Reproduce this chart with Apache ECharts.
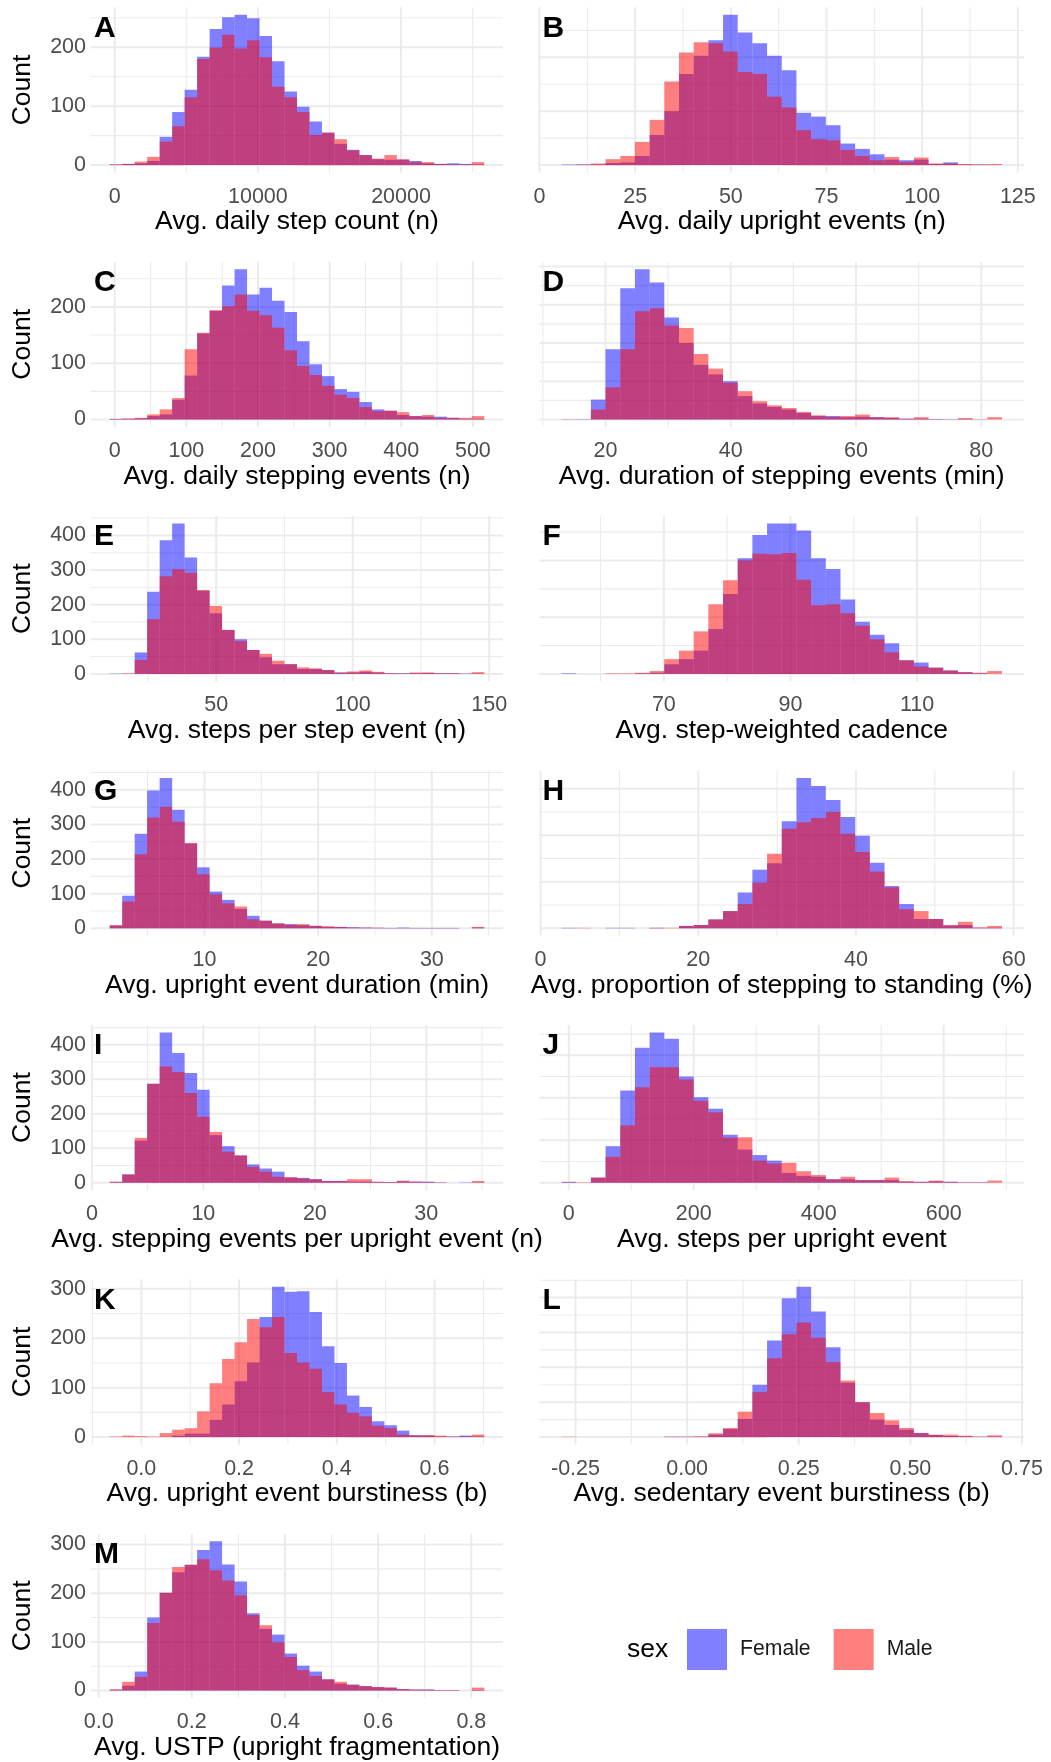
<!DOCTYPE html>
<html><head><meta charset="utf-8">
<script src="https://cdn.jsdelivr.net/npm/echarts@6/dist/echarts.min.js"></script>
<style>html,body{margin:0;padding:0;background:#fff}#chart{width:1051px;height:1762px}</style>
</head><body><div id="chart"></div>
<script>
// ---------------- data ----------------
const sexes = ['Female', 'Male'];
const panelTags = ['A','B','C','D','E','F','G','H','I','J','K','L','M'];
const xTitles = [
  'Avg. daily step count (n)', 'Avg. daily upright events (n)',
  'Avg. daily stepping events (n)', 'Avg. duration of stepping events (min)',
  'Avg. steps per step event (n)', 'Avg. step-weighted cadence',
  'Avg. upright event duration (min)', 'Avg. proportion of stepping to standing (%)',
  'Avg. stepping events per upright event (n)', 'Avg. steps per upright event',
  'Avg. upright event burstiness (b)', 'Avg. sedentary event burstiness (b)',
  'Avg. USTP (upright fragmentation)'
];
// histogram bins: first bin start and bin width (30 bins each)
const binStart = [-349, 5.75, -7, 12.98, 11.0, 53.84, 1.67, 2.66, 1.6, -11.7, -0.0647, -0.2813, 0.0238];
const binWidth = [872.1, 3.837, 17.43, 2.344, 4.573, 2.319, 1.098, 1.862, 1.12, 23.5, 0.02555, 0.03288, 0.0268];

const femaleA = [1,2,3,7,48,90,128,184,231,251,255,249,219,176,125,99,74,55,36,26,17,10,9,9,7,3,2,3,2,1];
const maleA   = [1,2,6,14,40,66,115,180,199,221,198,212,183,133,115,90,51,55,44,25,17,11,17,10,5,5,2,1,1,5];
const femaleB = [1,1,1,4,5,17,56,100,169,203,232,279,246,226,203,176,97,90,74,40,30,20,10,9,10,2,5,1,1,0];
const maleB   = [0,1,3,11,17,43,84,155,209,228,226,211,173,169,127,107,65,48,46,28,17,9,15,6,14,3,3,2,1,2];
const femaleC = [1,1,2,6,9,35,78,153,193,238,267,222,234,211,191,139,98,77,54,49,31,18,15,8,6,5,5,3,1,1];
const maleC   = [1,2,3,9,18,38,125,154,194,201,222,193,185,163,123,95,79,60,44,38,22,15,16,13,6,8,3,3,3,6];
const femaleD = [0,1,52,184,343,393,358,267,200,143,118,100,61,42,33,26,17,9,9,6,7,6,4,2,2,1,1,1,0,0];
const maleD   = [1,0,26,84,184,283,291,246,239,171,133,96,74,48,37,30,20,11,7,9,13,6,6,2,6,1,0,4,1,6];
const femaleE = [1,0,62,237,386,434,336,240,175,127,100,69,48,28,28,14,14,11,4,4,6,4,2,2,2,3,2,2,1,1];
const maleE   = [0,2,40,158,282,302,292,242,196,127,95,69,58,38,28,19,16,11,4,7,10,6,2,1,4,4,2,2,1,5];
const femaleF = [1,0,0,0,0,1,2,17,26,41,79,141,204,245,265,265,253,204,185,131,92,69,54,24,20,11,6,3,1,0];
const maleF   = [0,0,0,1,1,2,5,26,41,75,123,165,200,212,211,213,166,121,123,107,85,61,38,24,13,11,6,3,2,5];
const femaleG = [8,94,273,398,434,342,245,176,106,82,56,36,22,14,12,9,7,4,4,3,2,1,1,2,1,1,1,1,0,2];
const maleG   = [9,77,214,320,350,308,246,156,98,72,63,26,22,14,10,12,7,6,4,2,2,2,1,1,1,1,1,1,0,4];
const femaleH = [1,0,0,1,1,0,1,0,5,7,19,37,77,126,140,230,323,306,276,239,199,141,91,52,20,20,6,7,1,1];
const maleH   = [0,1,0,0,0,0,1,1,5,7,19,37,52,98,160,214,228,237,250,203,164,122,88,41,37,20,7,14,2,5];
const femaleI = [2,24,122,287,436,376,318,270,138,106,79,53,41,32,15,14,10,5,5,3,3,2,2,4,3,3,1,0,1,1];
const maleI   = [3,24,130,287,337,321,260,191,147,90,79,46,32,17,16,12,10,5,5,10,10,3,2,6,3,2,1,0,0,5];
const femaleJ = [2,0,12,86,217,318,354,339,250,201,174,113,78,65,52,23,16,14,8,8,6,6,6,2,2,3,2,1,1,0];
const maleJ   = [1,1,12,61,135,225,272,272,243,193,166,106,107,52,45,47,27,18,8,14,6,6,12,4,2,5,2,1,1,5];
const femaleK = [0,0,0,0,0,3,7,7,35,66,113,151,243,304,294,295,253,184,150,84,61,32,24,13,4,3,1,1,3,1];
const maleK   = [1,3,2,1,8,15,18,52,109,158,192,239,222,243,170,151,138,91,66,49,42,23,18,5,3,4,3,1,1,5];
const femaleL = [0,0,0,0,0,0,0,1,1,1,7,23,52,150,277,398,431,360,258,156,100,50,35,21,12,6,3,2,1,1];
const maleL   = [1,0,0,0,0,0,0,1,1,2,11,26,73,129,226,295,329,285,215,162,100,69,48,26,11,7,7,4,1,5];
const femaleM = [1,10,39,150,201,243,258,289,307,259,224,159,127,115,76,51,39,23,14,12,9,7,6,3,2,2,1,1,0,1];
const maleM   = [3,18,28,139,201,254,259,270,247,226,196,155,134,99,69,42,30,23,18,12,9,7,6,3,2,2,1,1,0,6];

const femaleCounts = [femaleA,femaleB,femaleC,femaleD,femaleE,femaleF,femaleG,femaleH,femaleI,femaleJ,femaleK,femaleL,femaleM];
const maleCounts   = [maleA,maleB,maleC,maleD,maleE,maleF,maleG,maleH,maleI,maleJ,maleK,maleL,maleM];

// tick labels
const xBreaks = [
  [0,10000,20000], [0,25,50,75,100,125], [0,100,200,300,400,500], [20,40,60,80],
  [50,100,150], [70,90,110], [10,20,30], [0,20,40,60], [0,10,20,30], [0,200,400,600],
  [0,0.2,0.4,0.6], [-0.25,0,0.25,0.5,0.75], [0,0.2,0.4,0.6,0.8]
];
const xDigits = [0,0,0,0,0,0,0,0,0,0,1,2,1];
const yBreaks = [0,100,200,300,400];

// ---------------- layout / style ----------------
const FONT = '"Liberation Sans", Arial, Helvetica, sans-serif';
const COL_LEFT = [91, 539.5], COL_W = [412, 484.5];
const ROW_TOP0 = 7.3, ROW_PITCH = 254.4, PLOT_H = 165.3;
const FEMALE_COLOR = 'rgba(0,0,255,0.5)', MALE_COLOR = 'rgba(255,0,0,0.5)';
const GRID_COLOR = '#EBEBEB';

function minorBreaks(maj, lo, hi) {
  const out = [];
  if (maj.length < 2) return out;
  const step = maj[1] - maj[0];
  for (let k = 0; k <= maj.length; k++) {
    const v = maj[0] - step / 2 + k * step;
    if (v >= lo && v <= hi) out.push(v);
  }
  return out;
}

function renderBar(params, api) {
  const p0 = api.coord([api.value(0), 0]);
  const p1 = api.coord([api.value(1), api.value(2)]);
  return { type: 'rect', shape: { x: p0[0], y: p1[1], width: p1[0] - p0[0], height: p0[1] - p1[1] },
           style: { fill: api.visual('color') } };
}
function renderGridLine(params, api) {
  const cs = params.coordSys;
  const v = api.value(0), o = api.value(1), major = api.value(2);
  const style = { stroke: GRID_COLOR, lineWidth: major ? 2 : 1.1 };
  if (o === 0) {
    const x = api.coord([v, 0])[0];
    return { type: 'line', shape: { x1: x, y1: cs.y, x2: x, y2: cs.y + cs.height }, style };
  }
  const y = api.coord([0, v])[1];
  return { type: 'line', shape: { x1: cs.x, y1: y, x2: cs.x + cs.width, y2: y }, style };
}

const grids = [], xAxes = [], yAxes = [], series = [], titles = [];
panelTags.forEach((tag, i) => {
  const col = i % 2, row = Math.floor(i / 2);
  const top = ROW_TOP0 + row * ROW_PITCH;
  grids.push({ left: COL_LEFT[col], top: top, width: COL_W[col], height: PLOT_H, containLabel: false });
  const fem = femaleCounts[i], mal = maleCounts[i];
  const n = fem.length;
  const x0 = binStart[i], w = binWidth[i];
  const x1 = x0 + n * w;
  const xMin = x0 - 0.05 * (x1 - x0), xMax = x1 + 0.05 * (x1 - x0);
  const ym = Math.max(...fem, ...mal);
  const yMin = -0.05 * ym, yMax = 1.05 * ym;
  const xMaj = xBreaks[i].filter(v => v >= xMin && v <= xMax);
  const yMaj = yBreaks.filter(v => v >= yMin && v <= yMax);
  const xMin2 = minorBreaks(xMaj, xMin, xMax), yMin2 = minorBreaks(yMaj, yMin, yMax);
  const d = xDigits[i];
  xAxes.push({
    gridIndex: i, type: 'value', min: xMin, max: xMax,
    axisLine: { show: false, onZero: false }, axisTick: { show: false }, splitLine: { show: false },
    axisLabel: { customValues: xMaj, formatter: v => Number(v).toFixed(d), color: '#4D4D4D',
                 fontSize: 21.5, fontFamily: FONT, margin: 13 },
    name: xTitles[i], nameLocation: 'middle', nameGap: 36,
    nameTextStyle: { fontSize: 26.5, color: '#000', fontFamily: FONT }
  });
  const yAx = {
    gridIndex: i, type: 'value', min: yMin, max: yMax,
    axisLine: { show: false, onZero: false }, axisTick: { show: false }, splitLine: { show: false },
    axisLabel: col === 0 ? { customValues: yMaj, formatter: v => String(Math.round(v)), color: '#4D4D4D',
                 fontSize: 21.5, fontFamily: FONT, margin: 5 } : { show: false }
  };
  if (col === 0) {
    Object.assign(yAx, { name: 'Count', nameLocation: 'middle', nameGap: 55, nameRotate: 90,
      nameTextStyle: { fontSize: 26.5, color: '#000', fontFamily: FONT } });
  }
  yAxes.push(yAx);
  const gl = [];
  xMaj.forEach(v => gl.push([v, 0, 1])); xMin2.forEach(v => gl.push([v, 0, 0]));
  yMaj.forEach(v => gl.push([v, 1, 1])); yMin2.forEach(v => gl.push([v, 1, 0]));
  series.push({ type: 'custom', xAxisIndex: i, yAxisIndex: i, silent: true, z: 0,
                renderItem: renderGridLine, data: gl, encode: { x: 0, y: 1 } });
  const fData = fem.map((c, k) => [x0 + k * w, x0 + (k + 1) * w, c]);
  const mData = mal.map((c, k) => [x0 + k * w, x0 + (k + 1) * w, c]);
  series.push({ type: 'custom', name: sexes[0], xAxisIndex: i, yAxisIndex: i, z: 2, silent: true,
                itemStyle: { color: FEMALE_COLOR }, renderItem: renderBar, data: fData, encode: { x: [0, 1], y: 2 } });
  series.push({ type: 'custom', name: sexes[1], xAxisIndex: i, yAxisIndex: i, z: 3, silent: true,
                itemStyle: { color: MALE_COLOR }, renderItem: renderBar, data: mData, encode: { x: [0, 1], y: 2 } });
  titles.push({ text: tag, left: COL_LEFT[col] + 3, top: top + 6, padding: 0,
                textStyle: { fontSize: 30, fontWeight: 'bold', color: '#000', fontFamily: FONT } });
});
titles.push({ text: 'sex', left: 627, top: 1636, padding: 0,
              textStyle: { fontSize: 26.5, fontWeight: 'normal', color: '#000', fontFamily: FONT } });

const chart = echarts.init(document.getElementById('chart'), null, { renderer: 'canvas', width: 1051, height: 1762 });
chart.setOption({
  animation: false,
  backgroundColor: '#fff',
  title: titles,
  grid: grids,
  xAxis: xAxes,
  yAxis: yAxes,
  legend: {
    data: sexes, left: 682, top: 1624, orient: 'horizontal', icon: 'rect',
    itemWidth: 40, itemHeight: 41, itemGap: 23, selectedMode: false,
    textStyle: { fontSize: 21.2, color: '#1A1A1A', fontFamily: FONT, padding: [0, 0, 0, 8] }
  },
  series: series
});
</script></body></html>
